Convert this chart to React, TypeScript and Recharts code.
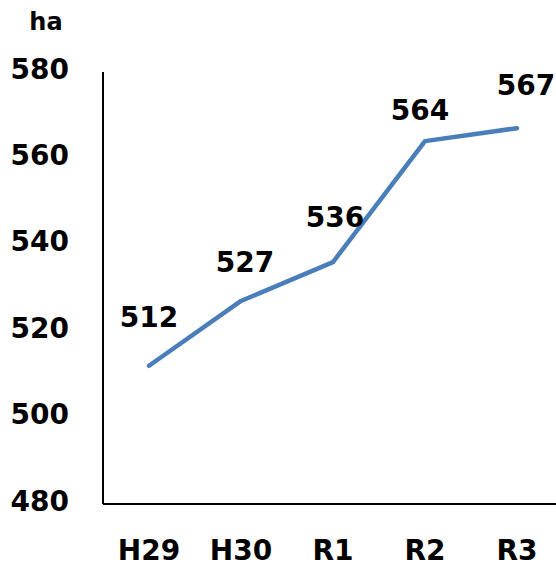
import { LineChart, Line, XAxis, YAxis, LabelList } from "recharts";

const categories = ["H29", "H30", "R1", "R2", "R3"];
const areaHa = [512, 527, 536, 564, 567];
const yTicks = [480, 500, 520, 540, 560, 580];

// label nudges relative to each point (Excel kept them at slightly different spots)
const labelLift = [48, 38, 45, 31, 43];
const labelShift = [0, 4, 2, -5, 9];

const FONT = "'DejaVu Sans', Verdana, sans-serif";
const LINE_COLOR = "#4A7EBB";

const chartData = categories.map((c, i) => ({ name: c, value: areaHa[i] }));

function YTick(props: any) {
  const { y, payload } = props;
  return (
    <text x={69} y={y - 3} textAnchor="end" dominantBaseline="central"
      fontFamily={FONT} fontWeight="bold" fontSize={28} fill="#000">
      {payload.value}
    </text>
  );
}

function XTick(props: any) {
  const { x, payload } = props;
  return (
    <text x={x} y={550} textAnchor="middle" dominantBaseline="central"
      fontFamily={FONT} fontWeight="bold" fontSize={28} fill="#000">
      {payload.value}
    </text>
  );
}

function ValueLabel(props: any) {
  const { x, y, value, index } = props;
  return (
    <text x={x + labelShift[index]} y={y - labelLift[index]} textAnchor="middle" dominantBaseline="central"
      fontFamily={FONT} fontWeight="bold" fontSize={28} fill="#000">
      {value}
    </text>
  );
}

export default function App() {
  return (
    <div style={{ position: "absolute", left: 0, top: 0, width: 556, height: 567, overflow: "hidden", background: "#fff" }}>
      <div style={{ position: "absolute", left: 46, top: 22, transform: "translate(-50%, -50%)", fontFamily: FONT, fontWeight: "bold", fontSize: 24 }}>
        ha
      </div>
      <LineChart width={563} height={567} data={chartData}
        margin={{ top: 72, right: 0, bottom: 0, left: 0 }}>
        <XAxis dataKey="name" height={63} tickLine={false} axisLine={{ stroke: "#000", strokeWidth: 2 }}
          tick={<XTick />} interval={0} padding={{ left: 46, right: 46 }} />
        <YAxis width={103} domain={[480, 580]} ticks={yTicks} tickLine={false}
          axisLine={{ stroke: "#000", strokeWidth: 2 }} tick={<YTick />} />
        <Line dataKey="value" stroke={LINE_COLOR} strokeWidth={4.5} dot={false}
          isAnimationActive={false} strokeLinecap="round" strokeLinejoin="round">
          <LabelList dataKey="value" content={<ValueLabel />} />
        </Line>
      </LineChart>
    </div>
  );
}
